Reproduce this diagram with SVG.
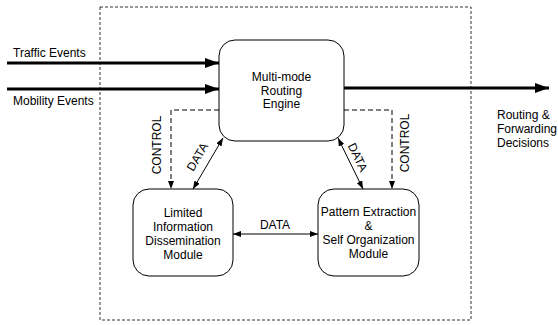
<svg xmlns="http://www.w3.org/2000/svg" width="558" height="325" viewBox="0 0 558 325">
<defs>
<marker id="big" viewBox="0 0 14 10" refX="14" refY="5" markerWidth="14" markerHeight="10" markerUnits="userSpaceOnUse" orient="auto"><path d="M0,0 L14,5 L0,10 Z" fill="#000"/></marker>
<marker id="sm" viewBox="0 0 8 6" refX="8" refY="3" markerWidth="8" markerHeight="6" markerUnits="userSpaceOnUse" orient="auto-start-reverse"><path d="M0,0 L8,3 L0,6 Z" fill="#000"/></marker>
</defs>
<style>
text{font-family:"Liberation Sans",Arial,sans-serif;font-size:12px;fill:#000}
.c{text-anchor:middle}
.box{fill:#fff;stroke:#000;stroke-width:1}
.thick{stroke:#000;stroke-width:3;fill:none}
.ctl{stroke:#000;stroke-width:1;fill:none;stroke-dasharray:5,3}
.dat{stroke:#000;stroke-width:1;fill:none}
</style>
<rect x="100" y="7" width="371" height="313" fill="none" stroke="#333" stroke-width="1" stroke-dasharray="3,2"/>
<g id="connectors">
<line class="thick" x1="7" y1="63" x2="219" y2="63" marker-end="url(#big)"/>
<line class="thick" x1="7" y1="89" x2="219" y2="89" marker-end="url(#big)"/>
<line class="thick" x1="344" y1="88" x2="549" y2="88" marker-end="url(#big)"/>
<polyline class="ctl" points="219,110 171,110 171,189" marker-end="url(#sm)"/>
<polyline class="ctl" points="344,110 392,110 392,189" marker-end="url(#sm)"/>
<line class="dat" x1="223" y1="138" x2="193" y2="189" marker-start="url(#sm)" marker-end="url(#sm)"/>
<line class="dat" x1="338" y1="138" x2="363" y2="189" marker-start="url(#sm)" marker-end="url(#sm)"/>
<line class="dat" x1="233" y1="234" x2="318" y2="234" marker-start="url(#sm)" marker-end="url(#sm)"/>
<text x="13" y="57">Traffic Events</text>
<text x="13" y="105">Mobility Events</text>
<text x="497" y="119">Routing &amp;</text>
<text x="497" y="133">Forwarding</text>
<text x="497" y="147">Decisions</text>
<text class="c" transform="translate(161,145) rotate(-90)">CONTROL</text>
<text class="c" transform="translate(409,143) rotate(-90)">CONTROL</text>
<text class="c" transform="translate(201,159) rotate(-59.5)">DATA</text>
<text class="c" transform="translate(354,159) rotate(64)">DATA</text>
<text class="c" x="275" y="229">DATA</text>
</g>
<g id="engine">
<rect class="box" x="219" y="40" width="125" height="101" rx="16"/>
<text class="c" x="281.5" y="81">Multi-mode</text>
<text class="c" x="281.5" y="95">Routing</text>
<text class="c" x="281.5" y="108">Engine</text>
</g>
<g id="dissemination">
<rect class="box" x="133" y="189" width="100" height="87" rx="16"/>
<text class="c" x="183" y="217">Limited</text>
<text class="c" x="183" y="231">Information</text>
<text class="c" x="183" y="245">Dissemination</text>
<text class="c" x="183" y="259">Module</text>
</g>
<g id="pattern">
<rect class="box" x="318" y="189" width="101" height="87" rx="16"/>
<text class="c" x="368.5" y="216">Pattern Extraction</text>
<text class="c" x="368.5" y="230">&amp;</text>
<text class="c" x="368.5" y="244">Self Organization</text>
<text class="c" x="368.5" y="258">Module</text>
</g>
</svg>
